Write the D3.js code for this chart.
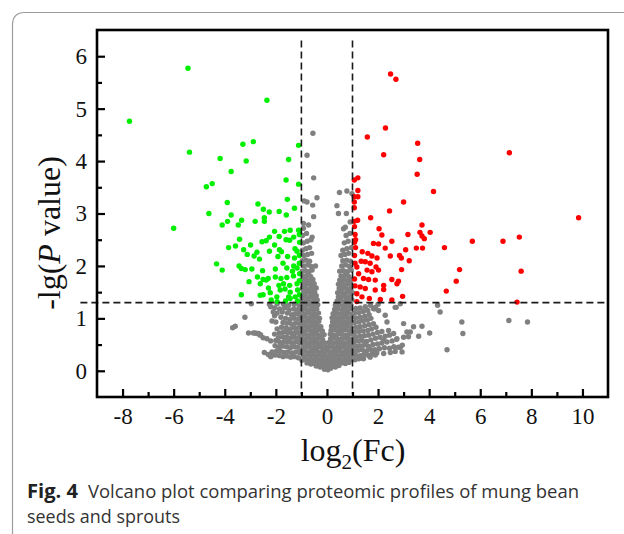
<!DOCTYPE html>
<html>
<head>
<meta charset="utf-8">
<script src="https://cdn.jsdelivr.net/npm/d3@7"></script>
<style>
body{margin:0;background:#fff;}
svg{display:block;}
</style>
</head>
<body>
<div id="chart"></div>
<script>
// 坐标轴刻度
const xTicks = [-8,-6,-4,-2,0,2,4,6,8,10];
const xMinor = [-7,-5,-3,-1,1,3,5,7,9];
const yTicks = [0,1,2,3,4,5,6];
const yMinor = [0.5,1.5,2.5,3.5,4.5,5.5];
const foldCut = [-1,1];
const pCut = 1.3;

// 下调蛋白 (log2Fc, -lgP)
const downReg = [
 [-7.73,4.76],[-5.44,5.77],[-5.38,4.17],[-2.35,5.16],[-4.18,4.05],[-3.29,4.32],[-2.88,4.37],[-3.16,4.0],[-3.75,3.8],
 [-4.72,3.51],[-4.49,3.57],[-1.11,4.3],[-1.5,4.03],[-1.6,3.64],[-1.11,3.56],[-3.9,3.21],[-4.62,3.0],[-3.75,2.97],
 [-2.7,3.18],[-2.49,3.08],[-2.26,3.03],[-1.87,3.04],[-1.55,3.27],[-1.27,3.1],[-1.59,2.97],[-2.45,2.92],[-2.81,2.85],
 [-3.34,2.87],[-3.47,2.78],[-3.89,2.85],[-4.1,2.78],[-6.0,2.72],[-2.45,2.85],
 [-2.05,2.66],[-1.66,2.66],[-1.44,2.68],[-1.11,2.68],[-2.25,2.55],[-1.87,2.56],[-1.6,2.5],[-1.46,2.49],[-2.38,2.48],
 [-3.42,2.51],[-3.85,2.35],[-3.58,2.38],[-3.26,2.31],[-2.99,2.4],[-2.54,2.46],[-2.25,2.28],[-1.86,2.31],[-1.78,2.27],
 [-1.25,2.33],[-1.17,2.28],[-2.74,2.26],[-2.85,2.19],[-3.12,2.22],[-2.64,2.13],[-1.92,2.18],[-1.54,2.18],[-1.27,2.15],
 [-4.32,2.04],[-4.1,1.92],[-3.44,2.0],[-3.35,1.95],[-3.2,1.93],[-2.94,1.94],[-2.52,1.91],[-2.02,1.94],[-1.57,1.96],
 [-1.17,1.96],[-2.72,1.79],[-2.3,1.76],[-2.38,1.73],[-2.02,1.79],[-1.8,1.76],[-1.57,1.78],[-1.31,1.81],[-3.05,1.7],
 [-2.61,1.66],[-1.88,1.63],[-1.7,1.66],[-1.46,1.63],[-1.17,1.66],[-2.29,1.58],[-1.83,1.54],[-1.64,1.56],[-1.44,1.5],
 [-1.15,1.54],[-2.22,1.49],[-1.5,1.41],[-1.24,1.41],[-3.35,1.45],[-1.96,1.41],[-1.15,1.33],[-2.61,1.44],[-2.5,1.45],
 [-2.18,1.35],[-1.44,1.38],[-2.5,1.74],[-1.08,2.6],[-1.07,2.45],[-1.08,2.2],[-1.08,2.05],[-1.07,1.85],[-1.08,1.72],
 [-1.07,1.45],[-1.3,2.55],[-1.35,1.9],[-1.3,2.0],[-1.72,2.05],[-2.05,2.4],[-1.95,1.32],[-1.62,1.33]
];

// 上调蛋白
const upReg = [
 [2.49,5.66],[2.7,5.56],[2.29,4.63],[1.58,4.46],[3.55,4.34],[2.22,4.12],[3.63,4.03],[7.14,4.16],[3.53,3.75],
 [1.21,3.68],[1.07,3.64],[4.17,3.42],[1.21,3.44],[1.21,3.32],[1.07,3.32],[3.0,3.22],[1.07,3.22],[2.45,3.05],
 [1.07,3.11],[9.85,2.92],[1.71,2.92],[3.72,2.78],[1.07,2.85],[1.2,2.87],[2.04,2.71],
 [5.69,2.47],[3.17,2.6],[3.64,2.64],[3.72,2.57],[3.81,2.52],[4.04,2.64],[2.15,2.59],[1.82,2.43],[2.02,2.42],
 [2.54,2.47],[3.5,2.34],[3.74,2.34],[4.6,2.35],[2.28,2.34],[3.08,2.31],[2.84,2.2],[2.91,2.15],[2.48,2.19],
 [3.22,2.1],[1.6,2.24],[1.76,2.19],[1.96,2.15],[1.38,2.27],[1.34,2.09],[5.19,1.93],[2.92,1.93],[5.06,1.71],
 [4.67,1.52],[1.5,2.08],[1.69,2.05],[1.92,1.98],[2.02,1.92],[1.57,1.92],[1.76,1.89],[1.17,1.98],[1.24,1.85],
 [1.43,1.76],[1.63,1.74],[1.89,1.73],[2.54,1.74],[2.74,1.66],[2.8,1.71],[2.22,1.63],[2.22,1.55],[1.3,1.6],
 [1.5,1.57],[1.89,1.54],[1.17,1.47],[1.37,1.41],[1.66,1.38],[2.09,1.36],[2.54,1.35],[2.96,1.42],[1.17,1.32],
 [6.89,2.47],[7.53,2.55],[7.6,1.9],[7.44,1.31],
 [1.08,2.75],[1.1,2.6],[1.08,2.45],[1.12,2.35],[1.08,2.2],[1.1,2.05],[1.08,1.75],[1.1,1.62],[1.12,2.5]
];

// 无显著差异：中心 V 形区
const grayCore = [
 [-0.1,0.03],[0.04,0.02],[0.15,0.05],
 [-0.42,0.09],[-0.27,0.07],[-0.12,0.08],[0.02,0.08],[0.18,0.09],[0.33,0.07],[0.47,0.1],
 [-0.78,0.15],[-0.63,0.13],[-0.49,0.14],[-0.33,0.15],[-0.18,0.13],[-0.03,0.14],[0.12,0.15],[0.27,0.13],[0.42,0.14],[0.57,0.15],[0.72,0.14],[0.86,0.16],
 [-0.98,0.2],[-0.85,0.22],[-0.7,0.21],[-0.55,0.2],[-0.4,0.22],[-0.25,0.21],[-0.1,0.2],[0.05,0.22],[0.2,0.21],[0.35,0.2],[0.5,0.22],[0.65,0.21],[0.8,0.2],[0.95,0.22],
 [-0.92,0.29],[-0.77,0.3],[-0.62,0.28],[-0.47,0.29],[-0.32,0.3],[-0.17,0.28],[-0.02,0.29],[0.13,0.3],[0.28,0.28],[0.43,0.29],[0.58,0.3],[0.73,0.28],[0.88,0.29],[1.02,0.3],
 [-1.0,0.37],[-0.85,0.38],[-0.7,0.36],[-0.55,0.37],[-0.4,0.38],[-0.25,0.36],[-0.1,0.37],[0.05,0.38],[0.2,0.36],[0.35,0.37],[0.5,0.38],[0.65,0.36],[0.8,0.37],[0.95,0.38],
 [-0.93,0.45],[-0.78,0.46],[-0.63,0.44],[-0.48,0.45],[-0.33,0.46],[-0.18,0.44],[-0.03,0.45],[0.12,0.46],[0.27,0.44],[0.42,0.45],[0.57,0.46],[0.72,0.44],[0.87,0.45],[1.0,0.46],
 [-0.99,0.53],[-0.84,0.54],[-0.69,0.52],[-0.54,0.53],[-0.39,0.54],[-0.24,0.52],[-0.09,0.53],[0.08,0.54],[0.22,0.52],[0.37,0.53],[0.52,0.54],[0.67,0.52],[0.82,0.53],[0.97,0.54],
 [-0.92,0.61],[-0.77,0.62],[-0.62,0.6],[-0.47,0.61],[-0.32,0.62],[-0.17,0.6],[0.14,0.61],[0.28,0.62],[0.43,0.6],[0.58,0.61],[0.73,0.62],[0.88,0.6],[1.02,0.61],
 [-1.0,0.69],[-0.85,0.7],[-0.7,0.68],[-0.55,0.69],[-0.4,0.7],[-0.25,0.68],[-0.11,0.69],[0.13,0.7],[0.26,0.68],[0.4,0.69],[0.55,0.7],[0.7,0.68],[0.85,0.69],[0.98,0.7],
 [-0.93,0.77],[-0.78,0.78],[-0.63,0.76],[-0.48,0.77],[-0.33,0.78],[-0.18,0.76],[0.16,0.77],[0.3,0.78],[0.45,0.76],[0.6,0.77],[0.75,0.78],[0.9,0.76],
 [-0.99,0.85],[-0.84,0.86],[-0.69,0.84],[-0.54,0.85],[-0.39,0.86],[-0.24,0.84],[0.18,0.85],[0.33,0.86],[0.48,0.84],[0.63,0.85],[0.78,0.86],[0.93,0.84],
 [-0.92,0.93],[-0.77,0.94],[-0.62,0.92],[-0.47,0.93],[-0.32,0.94],[0.22,0.93],[0.36,0.94],[0.51,0.92],[0.66,0.93],[0.81,0.94],[0.96,0.92],
 [-1.0,1.01],[-0.85,1.02],[-0.7,1.0],[-0.55,1.01],[-0.4,1.02],[-0.29,1.0],[0.2,1.01],[0.33,1.02],[0.48,1.0],[0.63,1.01],[0.78,1.02],[0.93,1.0],
 [-0.93,1.09],[-0.78,1.1],[-0.63,1.08],[-0.48,1.09],[-0.33,1.1],[0.24,1.09],[0.38,1.1],[0.53,1.08],[0.68,1.09],[0.83,1.1],[0.98,1.08],
 [-0.98,1.17],[-0.84,1.18],[-0.69,1.16],[-0.54,1.17],[-0.4,1.18],[0.3,1.17],[0.44,1.18],[0.59,1.16],[0.74,1.17],[0.89,1.18],
 [-0.92,1.25],[-0.77,1.26],[-0.62,1.24],[-0.47,1.25],[-0.36,1.26],[0.33,1.25],[0.48,1.26],[0.63,1.24],[0.78,1.25],[0.93,1.26]
];

// 无显著差异：阈值以上的两臂
const grayArms = [
 [-0.95,1.33],[-0.8,1.34],[-0.65,1.32],[-0.5,1.33],[-0.38,1.35],
 [-0.98,1.41],[-0.85,1.42],[-0.7,1.4],[-0.55,1.41],[-0.42,1.43],
 [-0.92,1.49],[-0.78,1.5],[-0.63,1.48],[-0.48,1.5],
 [-0.97,1.57],[-0.84,1.58],[-0.69,1.56],[-0.55,1.57],[-0.42,1.58],
 [-0.92,1.65],[-0.77,1.66],[-0.62,1.64],[-0.5,1.66],
 [-0.97,1.73],[-0.83,1.74],[-0.68,1.72],[-0.55,1.74],
 [-0.92,1.81],[-0.78,1.82],[-0.64,1.8],[-0.45,2.0],
 [-0.97,1.9],[-0.84,1.91],[-0.7,1.89],[-0.58,1.92],
 [-0.9,2.0],[-0.75,2.02],[-0.62,1.99],
 [-0.96,2.1],[-0.82,2.11],[-0.68,2.09],
 [-0.9,2.2],[-0.76,2.22],[-0.6,2.24],
 [-0.96,2.3],[-0.82,2.33],[-0.68,2.35],
 [-0.92,2.44],[-0.77,2.47],[-0.62,2.5],
 [-0.96,2.58],[-0.8,2.62],[-0.58,2.55],
 [-0.92,2.72],[-0.72,2.78],[-0.92,2.81],
 [-0.52,2.94],[-0.56,3.16],[-0.89,3.24],[-0.78,3.22],[-0.39,3.3],[-0.52,3.68],[-0.78,4.11],[-0.55,4.53],
 [0.4,1.33],[0.55,1.34],[0.7,1.32],[0.85,1.33],[0.98,1.35],
 [0.45,1.41],[0.6,1.42],[0.75,1.4],[0.9,1.41],
 [0.42,1.49],[0.57,1.5],[0.72,1.48],[0.87,1.5],[1.0,1.49],
 [0.48,1.57],[0.63,1.58],[0.78,1.56],[0.93,1.57],
 [0.45,1.65],[0.6,1.66],[0.75,1.64],[0.9,1.66],
 [0.5,1.73],[0.65,1.74],[0.8,1.72],[0.95,1.74],
 [0.55,1.81],[0.7,1.82],[0.85,1.8],
 [0.5,1.9],[0.65,1.91],[0.8,1.89],[0.95,1.92],
 [0.58,2.0],[0.73,2.02],[0.88,1.99],
 [0.62,2.1],[0.77,2.11],[0.92,2.09],
 [0.55,2.2],[0.7,2.22],[0.85,2.24],
 [0.62,2.3],[0.78,2.33],[0.95,2.35],
 [0.68,2.44],[0.83,2.47],
 [0.75,2.58],[0.9,2.62],
 [0.72,2.74],[0.91,2.84],[0.65,2.71],
 [0.45,3.0],[0.76,3.0],[0.39,3.15],[0.49,3.4],[0.78,3.43],[0.98,3.38]
];

// 无显著差异：左侧 (x < -1)
const grayLeft = [
 [-1.12,0.25],[-1.27,0.27],[-1.42,0.26],[-1.57,0.28],[-1.72,0.27],[-1.87,0.29],[-2.02,0.3],[-2.17,0.29],[-2.3,0.31],
 [-1.08,0.35],[-1.22,0.36],[-1.37,0.34],[-1.52,0.36],[-1.67,0.35],[-1.82,0.37],[-1.97,0.38],[-2.15,0.36],
 [-1.13,0.45],[-1.28,0.46],[-1.43,0.44],[-1.58,0.46],[-1.73,0.47],[-1.88,0.45],[-2.03,0.48],
 [-1.08,0.54],[-1.23,0.55],[-1.38,0.53],[-1.53,0.55],[-1.68,0.56],[-1.84,0.54],[-2.0,0.58],[-2.2,0.57],
 [-1.12,0.63],[-1.27,0.64],[-1.42,0.62],[-1.57,0.64],[-1.73,0.65],[-1.9,0.63],[-2.35,0.61],[-2.5,0.63],
 [-1.08,0.72],[-1.23,0.73],[-1.38,0.71],[-1.55,0.73],[-1.7,0.74],[-1.86,0.72],[-2.05,0.7],[-2.62,0.68],[-2.74,0.71],[-2.88,0.72],[-3.07,0.72],
 [-1.13,0.81],[-1.28,0.82],[-1.43,0.8],[-1.6,0.82],[-1.78,0.83],[-1.95,0.8],
 [-1.08,0.9],[-1.23,0.91],[-1.38,0.89],[-1.55,0.91],[-1.72,0.92],[-2.0,0.93],[-2.15,0.95],
 [-1.13,0.99],[-1.28,1.0],[-1.45,0.98],[-1.62,1.0],[-1.8,1.02],[-2.05,1.05],
 [-1.08,1.08],[-1.23,1.09],[-1.38,1.07],[-1.55,1.1],[-1.75,1.12],[-1.95,1.1],[-2.1,1.12],
 [-1.13,1.17],[-1.3,1.18],[-1.48,1.16],[-1.65,1.2],[-1.85,1.18],[-2.05,1.2],[-2.2,1.22],
 [-1.1,1.26],[-1.28,1.27],[-1.5,1.25],[-1.7,1.27],[-1.95,1.28],[-2.25,1.27],
 [-3.69,0.82],[-3.59,0.85],[-3.21,1.02],[-2.96,1.28],[-2.81,0.72],[-2.68,0.71],[-2.45,0.35],[-2.2,0.27],[-2.6,0.69]
];

// 无显著差异：右侧 (x > 1)
const grayRight = [
 [1.1,0.21],[1.25,0.23],[1.4,0.24],
 [1.12,0.3],[1.3,0.29],[1.45,0.31],[1.6,0.3],[1.78,0.33],[1.95,0.34],
 [1.08,0.38],[1.22,0.39],[1.38,0.4],[1.55,0.38],[1.7,0.41],[1.88,0.4],[2.05,0.42],[2.25,0.44],[2.45,0.43],[2.62,0.46],[2.8,0.45],[2.95,0.49],
 [1.13,0.47],[1.28,0.48],[1.45,0.49],[1.62,0.47],[1.8,0.5],[1.98,0.51],[2.15,0.53],[2.35,0.55],[2.55,0.57],[2.72,0.6],
 [1.08,0.56],[1.22,0.57],[1.38,0.58],[1.55,0.56],[1.72,0.59],[1.9,0.62],[2.08,0.64],[2.28,0.66],[2.45,0.68],
 [1.13,0.65],[1.3,0.66],[1.47,0.67],[1.63,0.68],[1.8,0.7],[1.98,0.73],[2.15,0.75],
 [1.08,0.74],[1.25,0.75],[1.42,0.76],[1.6,0.77],[1.75,0.8],[1.92,0.83],
 [1.13,0.83],[1.3,0.84],[1.48,0.86],[1.65,0.88],[1.82,0.9],
 [1.08,0.92],[1.25,0.93],[1.42,0.95],[1.58,0.97],[1.72,1.0],
 [1.13,1.01],[1.3,1.02],[1.48,1.04],[1.65,1.07],
 [1.08,1.1],[1.25,1.11],[1.42,1.13],[1.6,1.15],[1.85,1.18],
 [1.13,1.19],[1.3,1.2],[1.5,1.22],[1.7,1.25],[2.0,1.27],
 [1.43,0.23],[1.69,0.26],[1.89,0.3],[2.22,0.33],[2.48,0.35],[2.67,0.37],[2.87,0.45],[2.94,0.36],
 [2.41,0.77],[2.61,0.71],[2.74,0.61],[2.28,1.06],[2.35,0.93],[2.02,1.15],[1.82,1.19],[2.22,0.58],
 [3.13,0.74],[3.0,0.64],[1.89,1.21],[2.67,1.21],
 [2.87,1.28],[2.71,1.21],[4.33,1.25],[4.43,1.12],[5.28,0.93],[5.32,0.71],[4.7,0.4],[3.72,0.85],[4.02,0.72],
 [3.59,0.66],[3.39,0.84],[3.26,0.74],[3.19,0.65],[3.0,0.9],[7.12,0.96],[7.85,0.93]
];

const unchanged = [].concat(grayCore, grayArms, grayLeft, grayRight);

const width = 624, height = 534;
const plot = {left: 97, right: 608, top: 30, bottom: 397};
const serif = '"Liberation Serif","Times New Roman",serif';
const sans = '"Open Sans","Noto Sans",sans-serif';

const svg = d3.select("#chart").append("svg")
  .attr("width", width).attr("height", height);

// 外框（圆角卡片）
svg.append("path")
  .attr("d", "M12.5,534 L12.5,25 Q12.5,12.5 25,12.5 L624,12.5")
  .attr("fill", "none").attr("stroke", "#9c9c9c").attr("stroke-width", 1.2);

const x = d3.scaleLinear().domain([-9, 11]).range([plot.left, plot.right]);
const y = d3.scaleLinear().domain([-0.5, 6.5]).range([plot.bottom, plot.top]);

// 散点
function drawDots(data, color) {
  svg.append("g").selectAll("circle")
    .data(data).join("circle")
    .attr("cx", d => x(d[0]))
    .attr("cy", d => y(d[1]))
    .attr("r", 2.7)
    .attr("fill", color);
}
drawDots(unchanged, "#808080");
drawDots(downReg, "#00f000");
drawDots(upReg, "#ff0000");

// 阈值虚线
svg.append("g").selectAll("line")
  .data(foldCut).join("line")
  .attr("x1", d => x(d)).attr("x2", d => x(d))
  .attr("y1", y(6.3)).attr("y2", plot.bottom - 3)
  .attr("stroke", "#1a1a1a").attr("stroke-width", 1.6)
  .attr("stroke-dasharray", "7,4");

svg.append("line")
  .attr("x1", x(-9.65)).attr("x2", plot.right)
  .attr("y1", y(pCut)).attr("y2", y(pCut))
  .attr("stroke", "#1a1a1a").attr("stroke-width", 1.6)
  .attr("stroke-dasharray", "7,4");

// 坐标轴
const xAxis = svg.append("g")
  .attr("transform", `translate(0,${plot.bottom})`)
  .call(d3.axisBottom(x).tickValues(xTicks).tickSize(-8).tickPadding(11).tickFormat(d3.format("d")));
const xAxisMinor = svg.append("g")
  .attr("transform", `translate(0,${plot.bottom})`)
  .call(d3.axisBottom(x).tickValues(xMinor).tickSize(-5).tickFormat(""));
const yAxis = svg.append("g")
  .attr("transform", `translate(${plot.left},0)`)
  .call(d3.axisLeft(y).tickValues(yTicks).tickSize(-8).tickPadding(10).tickFormat(d3.format("d")));
const yAxisMinor = svg.append("g")
  .attr("transform", `translate(${plot.left},0)`)
  .call(d3.axisLeft(y).tickValues(yMinor).tickSize(-5).tickFormat(""));

[xAxis, xAxisMinor, yAxis, yAxisMinor].forEach(g => {
  g.select(".domain").remove();
  g.selectAll("line").attr("stroke", "#000").attr("stroke-width", 2.2);
  g.selectAll("text").attr("font-family", serif).attr("font-size", 23).attr("fill", "#111");
});
xAxis.selectAll("text").text(d => d < 0 ? "-" + Math.abs(d) : d);

// 图框
svg.append("rect")
  .attr("x", plot.left).attr("y", plot.top)
  .attr("width", plot.right - plot.left).attr("height", plot.bottom - plot.top)
  .attr("fill", "none").attr("stroke", "#000").attr("stroke-width", 2.6);

// 轴标题
const xt = svg.append("text")
  .attr("x", 353).attr("y", 461)
  .attr("text-anchor", "middle")
  .attr("font-family", serif).attr("font-size", 32).attr("fill", "#111");
xt.append("tspan").text("log");
xt.append("tspan").attr("dy", 8).attr("font-size", 21).text("2");
xt.append("tspan").attr("dy", -8).text("(Fc)");

const yt = svg.append("text")
  .attr("transform", "translate(60,233) rotate(-90)")
  .attr("text-anchor", "middle")
  .attr("font-family", serif).attr("font-size", 32).attr("fill", "#111");
yt.append("tspan").text("-lg(");
yt.append("tspan").attr("font-style", "italic").text("P");
yt.append("tspan").text(" value)");

// 图注
svg.append("text")
  .attr("x", 27).attr("y", 498)
  .attr("font-family", sans).attr("font-size", 19).attr("font-weight", "bold")
  .attr("fill", "#222")
  .attr("textLength", 51).attr("lengthAdjust", "spacingAndGlyphs")
  .text("Fig. 4");
svg.append("text")
  .attr("x", 88).attr("y", 498)
  .attr("font-family", sans).attr("font-size", 19).attr("fill", "#333")
  .attr("textLength", 491).attr("lengthAdjust", "spacingAndGlyphs")
  .text("Volcano plot comparing proteomic profiles of mung bean");
svg.append("text")
  .attr("x", 27).attr("y", 523)
  .attr("font-family", sans).attr("font-size", 19).attr("fill", "#333")
  .attr("textLength", 153).attr("lengthAdjust", "spacingAndGlyphs")
  .text("seeds and sprouts");
</script>
</body>
</html>
